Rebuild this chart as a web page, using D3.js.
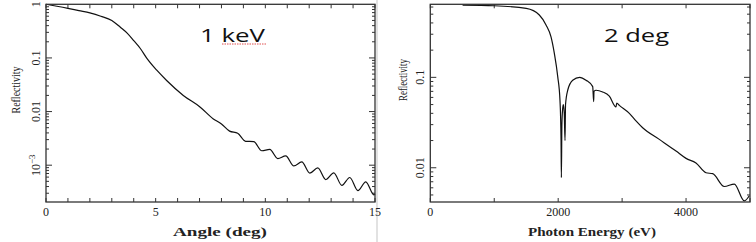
<!DOCTYPE html>
<html>
<head>
<meta charset="utf-8">
<script src="https://cdn.jsdelivr.net/npm/d3@7"></script>
<style>
  html, body { margin: 0; padding: 0; background: #fff; }
  svg { display: block; }
  .frame { fill: none; stroke: #333; stroke-width: 1.3; }
  .tick { stroke: #333; stroke-width: 1; }
  .curve { fill: none; stroke: #111; stroke-width: 1.2; stroke-linejoin: round; }
  .num { font-family: "Liberation Serif", "DejaVu Serif", serif; font-size: 12px; fill: #222; }
  .lab { font-family: "Liberation Serif", "DejaVu Serif", serif; fill: #222; }
  .big { font-family: "Open Sans", "Noto Sans", sans-serif; font-size: 19px; fill: #111; }
</style>
</head>
<body>
<script>
// 1 keV: reflectivity vs grazing angle
var angleDeg = [0, 0.5, 1, 1.5, 2, 2.5, 3, 3.4, 3.7, 4, 4.3, 4.6, 5.05, 5.5, 6.26, 7.02, 7.63,
  8.0, 8.37, 8.74, 9.1, 9.47, 9.84, 10.2, 10.57, 10.93, 11.3, 11.66, 12.03, 12.39, 12.76, 13.12, 13.49, 13.85, 14.22, 14.58, 14.95, 15];
var refl1keV = [1.0, 0.92, 0.84, 0.76, 0.69, 0.60, 0.50, 0.37, 0.29, 0.21, 0.15, 0.098, 0.059, 0.038, 0.020, 0.0122, 0.0073,
  0.00589, 0.00432, 0.00394, 0.00279, 0.00275, 0.00186, 0.00197, 0.00133, 0.00149, 0.00097, 0.00115, 0.00071, 0.00089,
  0.00054, 0.00072, 0.00042, 0.00059, 0.000335, 0.00049, 0.00028, 0.00029];

// 2 deg: reflectivity vs photon energy
var energyEv = [505, 1000, 1500, 1705, 1810, 1888, 1940, 1993, 2028, 2045, 2050, 2058, 2070, 2080, 2095, 2107, 2115, 2149, 2227, 2336, 2435,
  2540, 2555, 2560, 2592, 2696, 2800, 2904, 2916, 2956, 3113, 3217, 3321, 3582, 3843, 4000, 4155, 4312, 4417, 4598, 4755, 4911, 4989];
var refl2deg = [0.63, 0.62, 0.58, 0.49, 0.38, 0.28, 0.184, 0.102, 0.056, 0.02, 0.0078, 0.03, 0.045, 0.05, 0.04, 0.02, 0.05, 0.072, 0.093, 0.1, 0.093,
  0.079, 0.054, 0.07, 0.072, 0.069, 0.062, 0.047, 0.052, 0.049, 0.040, 0.033, 0.0277, 0.0206, 0.0153, 0.0127, 0.0113, 0.0088, 0.0086, 0.0062, 0.0066, 0.0043, 0.0049];

var angleTicks = [0, 5, 10, 15];
var energyTicks = [0, 2000, 4000];
var leftDecades = [1, 0.1, 0.01, 0.001];
var rightDecades = [0.1, 0.01];

var W = 756, H = 242;
var svg = d3.select("body").append("svg").attr("width", W).attr("height", H);

// faint edge where the two screenshots meet
svg.append("line").attr("x1", 377).attr("x2", 377).attr("y1", 0).attr("y2", H)
  .attr("stroke", "#e2e2e2").attr("stroke-width", 2);

function minorLogTicks (lo, hi) {
  var out = [];
  var d0 = Math.floor(Math.log10(lo)), d1 = Math.ceil(Math.log10(hi));
  for (var d = d0; d < d1; d++) {
    for (var m = 1; m < 10; m++) {
      var v = m * Math.pow(10, d);
      if (v >= lo && v <= hi) out.push(v);
    }
  }
  return out;
}

function drawPanel (opt) {
  var g = svg.append("g");
  var x = d3.scaleLinear().domain(opt.xDomain).range([opt.left, opt.right]);
  var y = d3.scaleLog().domain(opt.yDomain).range([opt.bottom, opt.top]);

  // x ticks, bottom and top
  var xt = d3.range(opt.xDomain[0], opt.xDomain[1] + 1e-9, opt.xStep);
  xt.forEach(function (v) {
    g.append("line").attr("class", "tick")
      .attr("x1", x(v)).attr("x2", x(v)).attr("y1", opt.bottom).attr("y2", opt.bottom - 4);
    g.append("line").attr("class", "tick")
      .attr("x1", x(v)).attr("x2", x(v)).attr("y1", opt.top).attr("y2", opt.top + 4);
  });

  // y ticks, log minor and major, both sides
  minorLogTicks(opt.yDomain[0], opt.yDomain[1]).forEach(function (v) {
    var isMajor = Math.abs(Math.log10(v) - Math.round(Math.log10(v))) < 1e-9;
    var len = isMajor ? 6 : 3;
    g.append("line").attr("class", "tick")
      .attr("x1", opt.left).attr("x2", opt.left + len).attr("y1", y(v)).attr("y2", y(v));
    g.append("line").attr("class", "tick")
      .attr("x1", opt.right).attr("x2", opt.right - len).attr("y1", y(v)).attr("y2", y(v));
  });

  // x tick labels
  opt.xLabels.forEach(function (v) {
    g.append("text").attr("class", "num")
      .attr("x", x(v)).attr("y", 216).attr("text-anchor", "middle").text(v);
  });

  // y tick labels, rotated
  opt.yLabels.forEach(function (v) {
    var t = g.append("text").attr("class", "num")
      .attr("transform", "translate(" + (opt.left - 6) + "," + y(v) + ") rotate(-90)")
      .attr("text-anchor", "middle");
    if (v < 0.005) {
      t.append("tspan").text("10");
      t.append("tspan").attr("dy", -5).attr("font-size", "9px").text("\u22123");
    } else {
      t.text(v);
    }
  });

  // axis titles
  g.append("text").attr("class", "lab")
    .attr("x", opt.xTitleX).attr("y", 236).attr("text-anchor", "middle")
    .attr("font-size", opt.xTitleSize + "px").attr("font-weight", "bold")
    .attr("textLength", opt.xTitleLen).attr("lengthAdjust", "spacingAndGlyphs")
    .text(opt.xTitle);
  g.append("text").attr("class", "lab")
    .attr("transform", "translate(" + opt.yTitleX + "," + opt.yTitleY + ") rotate(-90)")
    .attr("text-anchor", "middle").attr("font-size", "12.5px")
    .attr("textLength", opt.yTitleLen).attr("lengthAdjust", "spacingAndGlyphs")
    .text("Reflectivity");

  // curve
  var line = d3.line()
    .x(function (d) { return x(d[0]); })
    .y(function (d) { return y(d[1]); })
    .curve(d3.curveMonotoneX);
  g.append("path").attr("class", "curve")
    .attr("d", line(d3.zip(opt.xs, opt.ys)));

  // frame
  g.append("rect").attr("class", "frame")
    .attr("x", opt.left).attr("y", opt.top)
    .attr("width", opt.right - opt.left).attr("height", opt.bottom - opt.top);

  // big annotation
  g.append("text").attr("class", "big")
    .attr("x", opt.noteX).attr("y", 42)
    .attr("textLength", 65).attr("lengthAdjust", "spacingAndGlyphs")
    .text(opt.note);

  return { x: x, y: y, g: g };
}

var leftPanel = drawPanel({
  left: 46, right: 375, top: 4.3, bottom: 202,
  xDomain: [0, 15], xStep: 1, yDomain: [0.000206, 1],
  xLabels: angleTicks, yLabels: leftDecades,
  xs: angleDeg, ys: refl1keV,
  xTitle: "Angle (deg)", xTitleX: 220, xTitleSize: 13, xTitleLen: 94,
  yTitleX: 20, yTitleY: 90, yTitleLen: 47,
  note: "1 keV", noteX: 200
});

var rightPanel = drawPanel({
  left: 430.3, right: 750, top: 4.3, bottom: 202,
  xDomain: [0, 5000], xStep: 1000, yDomain: [0.00418, 0.643],
  xLabels: energyTicks, yLabels: rightDecades,
  xs: energyEv, ys: refl2deg,
  xTitle: "Photon Energy (eV)", xTitleX: 592, xTitleSize: 12, xTitleLen: 128,
  yTitleX: 407, yTitleY: 80, yTitleLen: 42,
  note: "2 deg", noteX: 604
});

// spell-check squiggle under "keV"
leftPanel.g.append("line")
  .attr("x1", 222).attr("x2", 266).attr("y1", 44).attr("y2", 44)
  .attr("stroke", "#e05050").attr("stroke-width", 1).attr("stroke-dasharray", "1.5,1");
</script>
</body>
</html>
